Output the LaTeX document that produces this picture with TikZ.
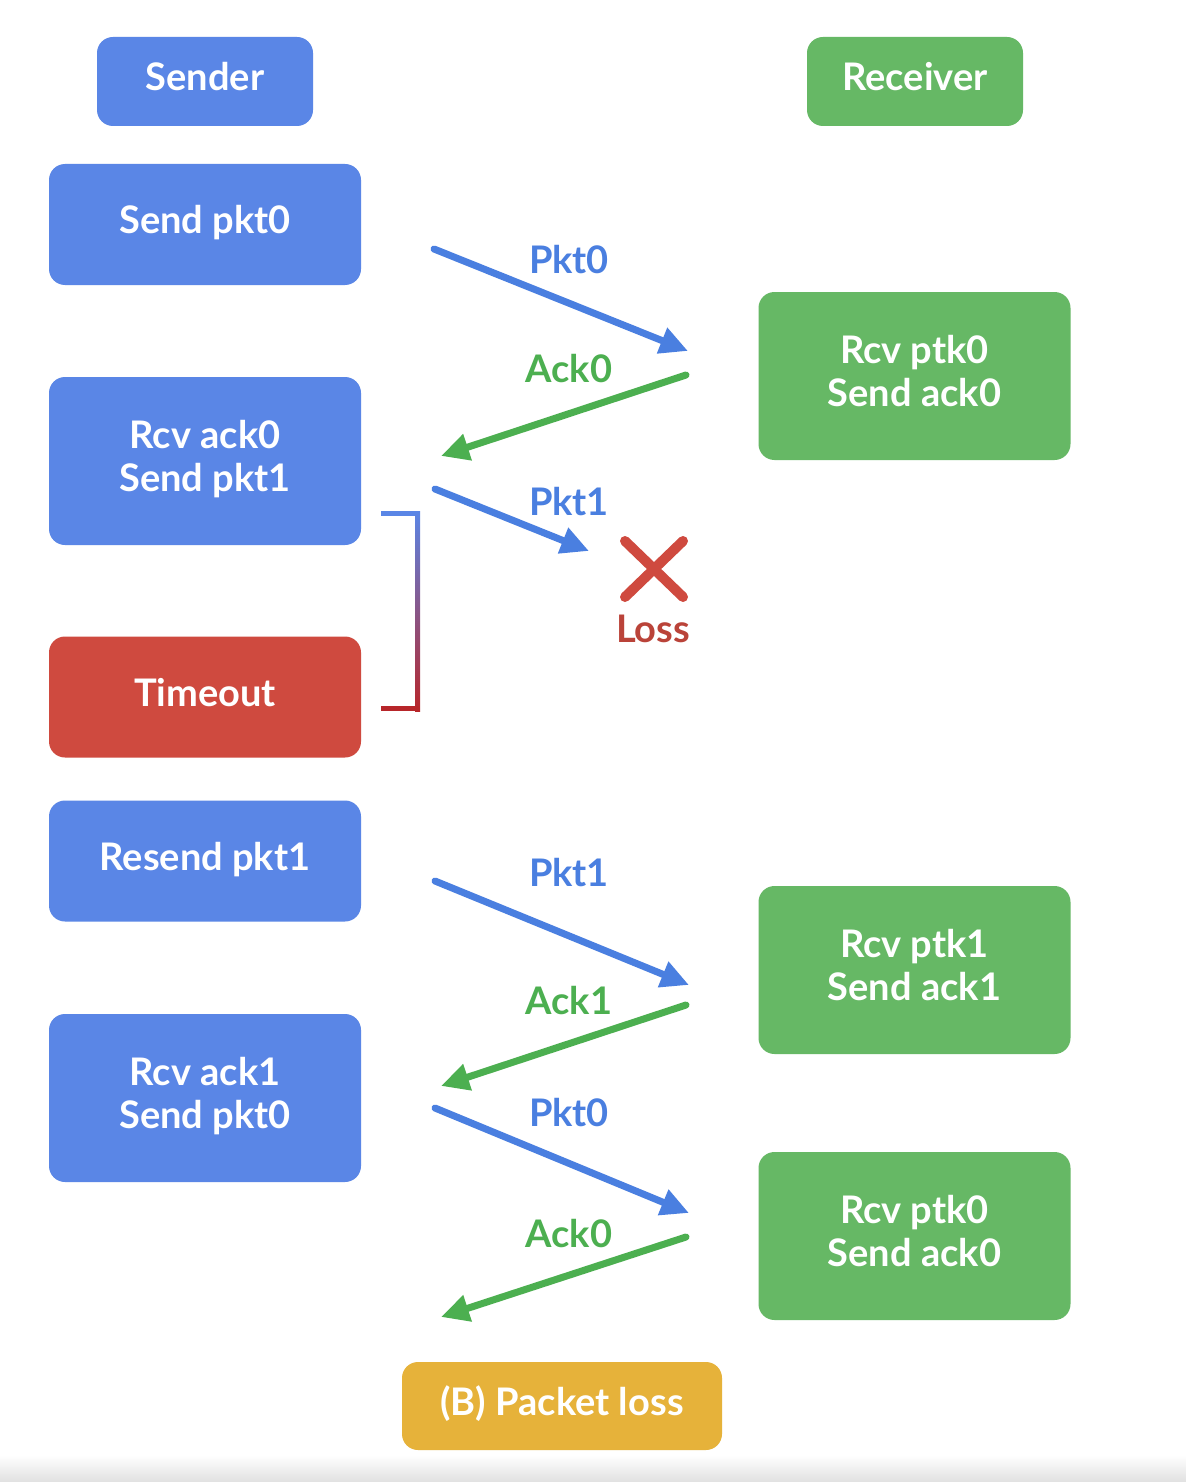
\documentclass[tikz,border=0pt]{standalone}
\usepackage{fontspec}
\setmainfont{Lato}
\usetikzlibrary{arrows.meta}
\definecolor{bblue}{HTML}{5A86E6}
\definecolor{bgreen}{HTML}{66B865}
\definecolor{bred}{HTML}{CF4A3F}
\definecolor{byellow}{HTML}{E6B23A}
\definecolor{lblue}{HTML}{4A7FE0}
\definecolor{lgreen}{HTML}{4CAF50}
\definecolor{dred}{HTML}{B7262A}
\begin{document}
\begin{tikzpicture}[x=0.5pt,y=-0.5pt,
  box/.style={rounded corners=8pt, minimum width=156pt, text=white, font=\fontsize{19}{21.5}\selectfont\bfseries, align=center, inner sep=0pt, text depth=5pt},
  onebox/.style={box, minimum height=60.5pt},
  twobox/.style={box, minimum height=84pt},
  headbox/.style={box, minimum width=108pt, minimum height=44.5pt},
  lbl/.style={font=\fontsize{19}{21.5}\selectfont\bfseries, inner sep=0pt},
  barrow/.style={draw=lblue, line width=3.5pt, -{Triangle[length=14pt,width=13pt]}},
  garrow/.style={draw=lgreen, line width=3.5pt, -{Triangle[length=14pt,width=13pt]}},
]
\useasboundingbox (0,0) rectangle (1186,1482);
\fill[white] (0,0) rectangle (1186,1482);
\shade[top color=white, bottom color=black!12] (0,1455) rectangle (1186,1482);

% header nodes
\node[headbox, fill=bblue] (sender) at (205,81.5) {Sender};
\node[headbox, fill=bgreen] (receiver) at (915,81.5) {Receiver};

% sender column
\node[onebox, fill=bblue] (s1) at (205,224.5) {Send pkt0};
\node[twobox, fill=bblue] (s2) at (205,461) {Rcv ack0\\Send pkt1};
\node[onebox, fill=bred] (s3) at (205,697) {Timeout};
\node[onebox, fill=bblue] (s4) at (205,861) {Resend pkt1};
\node[twobox, fill=bblue] (s5) at (205,1098) {Rcv ack1\\Send pkt0};

% receiver column
\node[twobox, fill=bgreen] (r1) at (914.5,376) {Rcv ptk0\\Send ack0};
\node[twobox, fill=bgreen] (r2) at (914.5,970) {Rcv ptk1\\Send ack1};
\node[twobox, fill=bgreen] (r3) at (914.5,1236) {Rcv ptk0\\Send ack0};

% caption
\node[box, fill=byellow, minimum width=160pt, minimum height=44pt] (cap) at (562,1406) {(B) Packet loss};

% arrow end points
\coordinate (a1s) at (434,249); \coordinate (a1e) at (688,351);
\coordinate (a2s) at (686,375); \coordinate (a2e) at (441,456);
\coordinate (a3s) at (435,489); \coordinate (a3e) at (589,551);
\coordinate (a4s) at (435,881); \coordinate (a4e) at (689,985);
\coordinate (a5s) at (686,1005); \coordinate (a5e) at (441,1086);
\coordinate (a6s) at (435,1108); \coordinate (a6e) at (689,1213);
\coordinate (a7s) at (686,1237); \coordinate (a7e) at (441,1317);

\draw[barrow, line cap=round] (a1s) -- (a1e);
\draw[garrow, line cap=round] (a2s) -- (a2e);
\draw[barrow, line cap=round] (a3s) -- (a3e);
\draw[barrow, line cap=round] (a4s) -- (a4e);
\draw[garrow, line cap=round] (a5s) -- (a5e);
\draw[barrow, line cap=round] (a6s) -- (a6e);
\draw[garrow, line cap=round] (a7s) -- (a7e);

% arrow labels
\node[lbl, text=lblue] (l1) at (569,260) {Pkt0};
\node[lbl, text=lgreen] (l2) at (569,369) {Ack0};
\node[lbl, text=lblue] (l3) at (569,502) {Pkt1};
\node[lbl, text=lblue] (l4) at (569,873) {Pkt1};
\node[lbl, text=lgreen] (l5) at (569,1001) {Ack1};
\node[lbl, text=lblue] (l6) at (569,1113) {Pkt0};
\node[lbl, text=lgreen] (l7) at (569,1234) {Ack0};

% loss mark
\coordinate (x1) at (625,541); \coordinate (x2) at (683,597);
\coordinate (x3) at (683,541); \coordinate (x4) at (625,597);
\draw[bred, line width=5pt, line cap=round] (x1) -- (x2);
\draw[bred, line width=5pt, line cap=round] (x3) -- (x4);
\node[lbl, text=bred!90!black] (loss) at (653,629) {Loss};

% timeout bracket (blue to red)
\fill[bblue] (381,511) rectangle (420,516);
\shade[top color=bblue, bottom color=dred] (415,511) rectangle (420,711);
\fill[dred] (381,706) rectangle (420,711);
\end{tikzpicture}
\end{document}
